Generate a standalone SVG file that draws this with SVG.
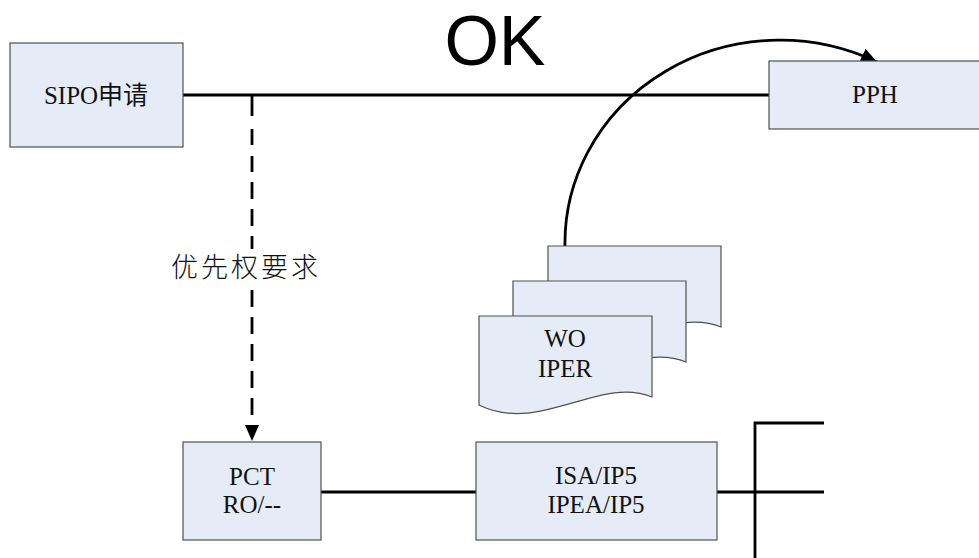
<svg xmlns="http://www.w3.org/2000/svg" width="979" height="558" viewBox="0 0 979 558">
<defs>
<style>
.box{fill:#E6ECF7;stroke:#505050;stroke-width:1.2}
.t{font-family:"Liberation Serif","Noto Sans CJK SC",serif;font-size:25px;fill:#111;text-anchor:middle}
.c{fill:none;stroke:#000;stroke-width:2.8}
</style>
<marker id="ah" viewBox="0 0 16 14" refX="16" refY="7" markerWidth="16" markerHeight="14" markerUnits="userSpaceOnUse" orient="auto">
<path d="M0,0 L16,7 L0,14 Z" fill="#000"/>
</marker>
<path id="doc" d="M0,0 H173 V81 C121,59 61,119 0,89 Z"/>
</defs>
<rect width="979" height="558" fill="#fff"/>
<text x="495" y="65" style="font-family:'Liberation Sans',Arial,sans-serif;font-size:70px;fill:#000;text-anchor:middle">OK</text>
<g id="connectors">
<path class="c" d="M183,95 H769"/>
<path class="c" d="M252,95 V425" stroke-dasharray="21 13 16 11 16 10 17 10 17 10 17 10 17 10 17 10 17 10 17 10 17 10 17 10"/>
<path class="c" d="M565,247 A215 203 0 0 1 877,62" marker-end="url(#ah)"/>
<path class="c" d="M321,492 H476"/>
<path class="c" d="M717,492 H824 M755,558 V423 H824"/>
<path d="M245,425 L259,425 L252,441 Z" fill="#000"/>
</g>
<g id="label-priority">
<rect x="168" y="249" width="160" height="40" fill="#fff"/>
<text x="246" y="277" style="font-family:'Noto Sans CJK SC',sans-serif;font-size:27px;letter-spacing:3px;fill:#111;text-anchor:middle;font-weight:300">优先权要求</text>
</g>
<g id="sipo">
<rect class="box" x="10" y="43" width="173" height="104"/>
<text class="t" x="96" y="104">SIPO申请</text>
</g>
<g id="pph">
<rect class="box" x="769" y="61" width="212" height="68"/>
<text class="t" x="875" y="103">PPH</text>
</g>
<g id="wo-iper">
<use href="#doc" x="548" y="246" class="box"/>
<use href="#doc" x="513" y="281" class="box"/>
<use href="#doc" x="479" y="316" class="box"/>
<text class="t" x="565" y="347">WO</text>
<text class="t" x="565" y="377">IPER</text>
</g>
<g id="pct">
<rect class="box" x="183" y="442" width="138" height="98"/>
<text class="t" x="252" y="485">PCT</text>
<text class="t" x="252" y="513">RO/--</text>
</g>
<g id="isa">
<rect class="box" x="476" y="442" width="241" height="98"/>
<text class="t" x="596" y="484">ISA/IP5</text>
<text class="t" x="596" y="513">IPEA/IP5</text>
</g>
</svg>
